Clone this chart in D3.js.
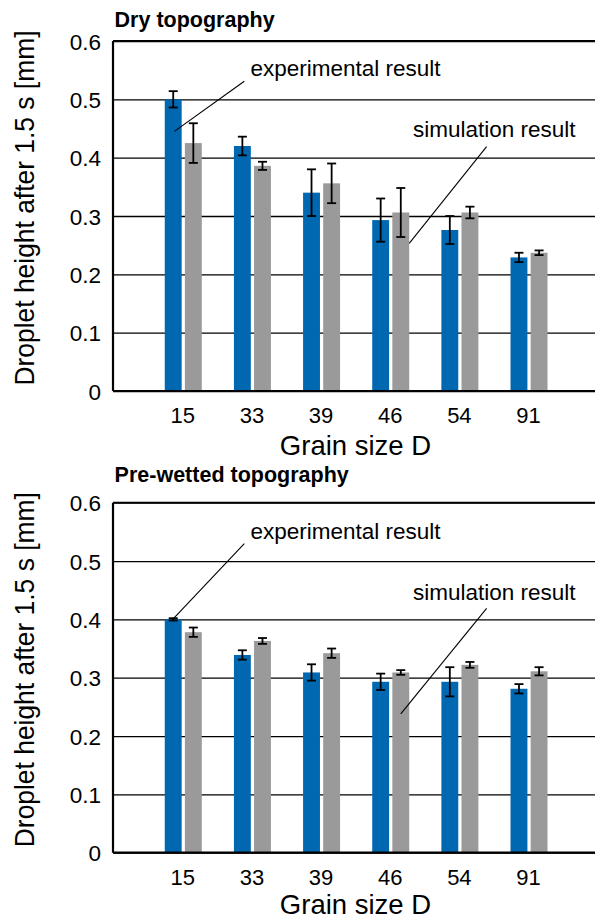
<!DOCTYPE html>
<html>
<head>
<meta charset="utf-8">
<script src="https://cdn.jsdelivr.net/npm/d3@7"></script>
<style>
  body { margin:0; background:#fff; }
  svg text { font-family: "Liberation Sans", Arial, sans-serif; fill:#000; }
</style>
</head>
<body>
<div id="chart"></div>
<script>
// grain sizes on x
const grainSizes = ["15", "33", "39", "46", "54", "91"];

// dry topography
const dryExp    = [0.500, 0.420, 0.340, 0.293, 0.276, 0.229];
const dryExpErr = [0.014, 0.016, 0.040, 0.037, 0.024, 0.008];
const drySim    = [0.425, 0.386, 0.356, 0.306, 0.306, 0.237];
const drySimErr = [0.034, 0.007, 0.034, 0.042, 0.010, 0.004];

// pre-wetted topography
const wetExp    = [0.400, 0.339, 0.309, 0.293, 0.293, 0.281];
const wetExpErr = [0.002, 0.008, 0.014, 0.014, 0.025, 0.008];
const wetSim    = [0.378, 0.363, 0.342, 0.309, 0.322, 0.311];
const wetSimErr = [0.008, 0.005, 0.008, 0.004, 0.005, 0.007];

const yTicks = [0, 0.1, 0.2, 0.3, 0.4, 0.5, 0.6];
const yTickLabels = ["0", "0.1", "0.2", "0.3", "0.4", "0.5", "0.6"];
const seriesNames = ["exp", "sim"];

let width = 595, height = 920,
    left = 113, right = 600,
    innerH = 350,
    colors = { exp: "#0068b1", sim: "#9a9a9a" };

let svg = d3.select("#chart").append("svg")
    .attr("width", width).attr("height", height)
    .attr("viewBox", `0 0 ${width} ${height}`);

let x0 = d3.scaleBand().domain(grainSizes).range([35.7, 450.6]);
let x1 = d3.scaleBand().domain(seriesNames)
    .range([x0.bandwidth()/2 - 18.5, x0.bandwidth()/2 + 18.5])
    .paddingInner(0.16);
let yScale = d3.scaleLinear().domain([0, 0.6]).range([innerH, 0]);

function drawChart(top, title, titleDy, xTitleDy, exp, expErr, sim, simErr, notes){
  let g = svg.append("g").attr("transform", `translate(${left},${top})`);
  let innerW = right - left;

  // grid + y labels
  let yAxis = d3.axisLeft(yScale).tickValues(yTicks)
      .tickFormat((d,i) => yTickLabels[i]).tickSize(-innerW).tickPadding(12);
  let yGroup = g.append("g").call(yAxis);
  yGroup.select(".domain").remove();
  yGroup.selectAll(".tick line").attr("stroke", "#000").attr("stroke-width", 1.3);
  yGroup.selectAll(".tick text").attr("font-size", 22.5).attr("dy", "0.36em")
      .attr("font-family", "Liberation Sans, Arial, sans-serif");

  let rows = grainSizes.map((c,i) => ({
    cat: c,
    vals: [
      { key: "exp", v: exp[i], e: expErr[i] },
      { key: "sim", v: sim[i], e: simErr[i] }
    ]
  }));

  let groups = g.selectAll(".grp").data(rows).enter().append("g")
      .attr("transform", d => `translate(${x0(d.cat)},0)`);

  groups.selectAll("rect").data(d => d.vals).enter().append("rect")
      .attr("x", d => x1(d.key))
      .attr("width", x1.bandwidth())
      .attr("y", d => yScale(d.v))
      .attr("height", d => innerH - yScale(d.v))
      .attr("fill", d => colors[d.key]);

  // error bars
  let eb = groups.selectAll(".err").data(d => d.vals).enter().append("g")
      .attr("stroke", "#000").attr("stroke-width", 1.8);
  let cx = d => x1(d.key) + x1.bandwidth()/2;
  eb.append("line").attr("x1", cx).attr("x2", cx)
      .attr("y1", d => yScale(d.v + d.e)).attr("y2", d => yScale(d.v - d.e));
  eb.append("line").attr("x1", d => cx(d) - 4.5).attr("x2", d => cx(d) + 4.5)
      .attr("y1", d => yScale(d.v + d.e)).attr("y2", d => yScale(d.v + d.e));
  eb.append("line").attr("x1", d => cx(d) - 4.5).attr("x2", d => cx(d) + 4.5)
      .attr("y1", d => yScale(d.v - d.e)).attr("y2", d => yScale(d.v - d.e));

  // axis frame
  g.append("line").attr("x1", 0).attr("x2", 0).attr("y1", 0).attr("y2", innerH)
      .attr("stroke", "#000").attr("stroke-width", 2.2);
  g.append("line").attr("x1", 0).attr("x2", innerW).attr("y1", innerH).attr("y2", innerH)
      .attr("stroke", "#000").attr("stroke-width", 2.2);
  g.append("line").attr("x1", 0).attr("x2", innerW).attr("y1", 0).attr("y2", 0)
      .attr("stroke", "#000").attr("stroke-width", 1.8);

  // x labels
  g.selectAll(".xl").data(grainSizes).enter().append("text")
      .attr("x", d => x0(d) + x0.bandwidth()/2 - 0.5)
      .attr("y", innerH + 32)
      .attr("text-anchor", "middle").attr("font-size", 22)
      .text(d => d);
  g.append("text").attr("x", 355.5 - left).attr("y", innerH + xTitleDy)
      .attr("text-anchor", "middle").attr("font-size", 27.5).text("Grain size D");

  // titles
  g.append("text").attr("x", 1.6).attr("y", titleDy)
      .attr("font-size", 21.5).attr("font-weight", "bold").text(title);
  g.append("text")
      .attr("transform", `translate(${34 - left},${innerH/2 - 8}) rotate(-90)`)
      .attr("text-anchor", "middle")
      .attr("font-family", "Liberation Sans Narrow, Arial Narrow, Liberation Sans, sans-serif")
      .attr("font-size", 28)
      .attr("textLength", 355).attr("lengthAdjust", "spacingAndGlyphs")
      .text("Droplet height after 1.5 s [mm]");

  // annotations
  notes.forEach(n => {
    let tx = x0(n.cat) + x1(n.key) + x1.bandwidth() * n.frac;
    g.append("line")
        .attr("x1", tx).attr("y1", yScale(n.tipV))
        .attr("x2", n.endX - left).attr("y2", yScale(n.endV))
        .attr("stroke", "#000").attr("stroke-width", 1.1);
    g.append("text").attr("x", n.textX - left).attr("y", yScale(n.textV))
        .attr("font-size", 22.5).text(n.text);
  });
}

drawChart(41, "Dry topography", -14, 63.5, dryExp, dryExpErr, drySim, drySimErr, [
  { text: "experimental result", cat: "15", key: "exp", frac: 0.57, tipV: 0.445, endX: 244.3, endV: 0.531, textX: 250.5, textV: 0.540 },
  { text: "simulation result", cat: "46", key: "sim", frac: 1.0, tipV: 0.253, endX: 486.6, endV: 0.419, textX: 413, textV: 0.436 }
]);

drawChart(502.7, "Pre-wetted topography", -21, 61.5, wetExp, wetExpErr, wetSim, wetSimErr, [
  { text: "experimental result", cat: "15", key: "exp", frac: 0.47, tipV: 0.400, endX: 244.3, endV: 0.530, textX: 250.5, textV: 0.537 },
  { text: "simulation result", cat: "46", key: "sim", frac: 0.5, tipV: 0.238, endX: 486.6, endV: 0.419, textX: 413, textV: 0.433 }
]);
</script>
</body>
</html>
